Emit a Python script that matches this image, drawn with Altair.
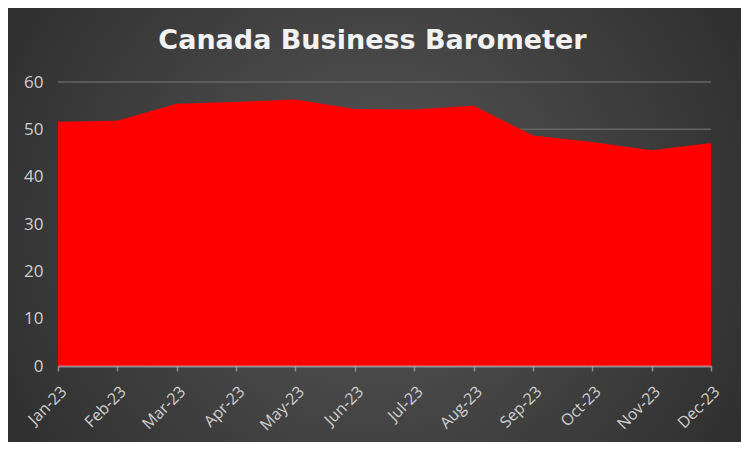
import altair as alt
import pandas as pd

months = ["Jan-23", "Feb-23", "Mar-23", "Apr-23", "May-23", "Jun-23",
          "Jul-23", "Aug-23", "Sep-23", "Oct-23", "Nov-23", "Dec-23"]
values = [51.6, 51.8, 55.4, 55.8, 56.3, 54.3, 54.2, 55.0, 48.7, 47.3, 45.6, 47.1]
y_ticks = [0, 10, 20, 30, 40, 50, 60]
grid_ticks = [10, 20, 30, 40, 50, 60]
title_text = "Canada Business Barometer"

W, H = 653, 284
PAD = {"left": 50, "top": 74, "right": 30, "bottom": 76}

df = pd.DataFrame({"month": months, "value": values})
grid_df = pd.DataFrame({"g": grid_ticks})
bg_df = pd.DataFrame({"a": [0]})
title_df = pd.DataFrame({"t": [title_text]})

y_axis = alt.Axis(values=y_ticks, title=None, grid=False, ticks=False, domain=False,
                  labelColor="#cfcfcf", labelFont="Open Sans", labelFontSize=17,
                  labelPadding=15, zindex=1)
y_scale = alt.Scale(domain=[0, 60], nice=False)

bg = alt.Chart(bg_df).mark_rect(
    fill={"gradient": "radial",
          "stops": [{"offset": 0, "color": "#575757"},
                    {"offset": 1, "color": "#252525"}],
          "x1": 0.5, "y1": 0.5, "r1": 0, "x2": 0.5, "y2": 0.5, "r2": 0.72},
    strokeWidth=0,
).encode(
    x=alt.value(-PAD["left"]), x2=alt.value(W + PAD["right"]),
    y=alt.value(-PAD["top"]), y2=alt.value(H + PAD["bottom"]),
)

grid = alt.Chart(grid_df).mark_rule(color="#646464", strokeWidth=1.5).encode(
    y=alt.Y("g:Q", scale=y_scale, axis=y_axis),
)

area = alt.Chart(df).mark_area(color="#ff0000", opacity=1).encode(
    x=alt.X("month:O", sort=months, scale=alt.Scale(type="point", padding=0),
            axis=alt.Axis(title=None, labelAngle=-45, labelColor="#cfcfcf",
                          labelFont="Open Sans", labelFontSize=16,
                          domainColor="#c8c8c8", domainOpacity=0.6, domainWidth=2,
                          tickColor="#8c8c8c", tickSize=5, tickWidth=1.5,
                          labelPadding=12, zindex=1)),
    y=alt.Y("value:Q", scale=y_scale, axis=y_axis),
)

title_main = alt.Chart(title_df).mark_text(
    font="DejaVu Sans", fontSize=27, fontWeight="bold", color="#f2f2f2",
    align="center", baseline="alphabetic",
).encode(text="t:N", x=alt.value(W / 2 - 12), y=alt.value(-33))

chart = alt.layer(bg, grid, area, title_main).properties(
    width=W, height=H,
    autosize=alt.AutoSizeParams(type="none"),
    padding=PAD,
    background="#262626",
).configure_view(strokeWidth=0)

chart.save("out.html", embed_options={"renderer": "svg", "actions": False})
